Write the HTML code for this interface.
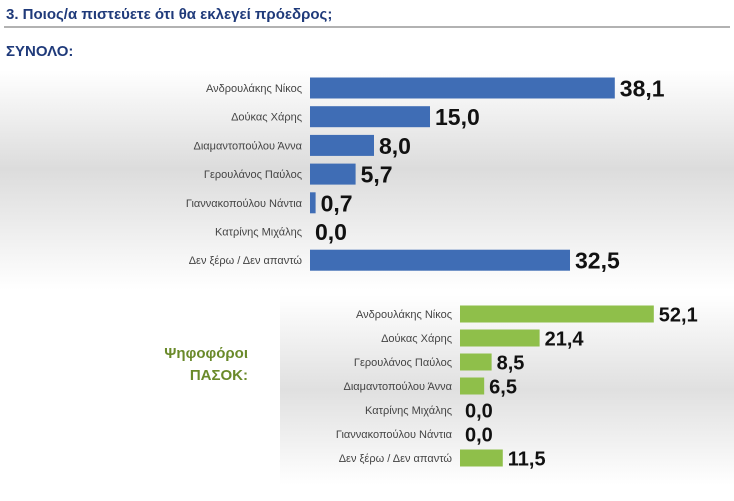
<!DOCTYPE html>
<html><head><meta charset="utf-8"><style>
body{margin:0;width:734px;height:496px;overflow:hidden;background:#fff;font-family:"Liberation Sans","DejaVu Sans",sans-serif}
</style></head><body>
<svg width="734" height="496" xmlns="http://www.w3.org/2000/svg">
<defs>
<linearGradient id="bg" x1="0" y1="0" x2="0" y2="1">
<stop offset="0" stop-color="#fff"/><stop offset="0.45" stop-color="#dcdcdc"/><stop offset="1" stop-color="#fff"/></linearGradient>
<linearGradient id="bg2" x1="0" y1="0" x2="0" y2="1">
<stop offset="0" stop-color="#fff"/><stop offset="0.5" stop-color="#e0e0e0"/><stop offset="1" stop-color="#fff"/></linearGradient>
</defs>
<rect x="0" y="70" width="734" height="220" fill="url(#bg)"/>
<rect x="280" y="295" width="454" height="190" fill="url(#bg2)"/>
<text x="6" y="19" font-size="15" font-weight="bold" fill="#1f3a7a">3. Ποιος/α πιστεύετε ότι θα εκλεγεί πρόεδρος;</text>
<line x1="4" y1="27" x2="730" y2="27" stroke="#666" stroke-width="1"/>
<text x="6" y="56" font-size="15" font-weight="bold" fill="#1f3a7a">ΣΥΝΟΛΟ:</text>
<text x="248" y="358" font-size="15" font-weight="bold" fill="#6a8a2a" text-anchor="end">Ψηφοφόροι</text>
<text x="248" y="380" font-size="15" font-weight="bold" fill="#6a8a2a" text-anchor="end">ΠΑΣΟΚ:</text>
<g id="c1"></g><g id="c2"></g>
</svg>
<script>
const cats1=["Ανδρουλάκης Νίκος","Δούκας Χάρης","Διαμαντοπούλου Άννα","Γερουλάνος Παύλος","Γιαννακοπούλου Νάντια","Κατρίνης Μιχάλης","Δεν ξέρω / Δεν απαντώ"];
const vals1=[38.1,15.0,8.0,5.7,0.7,0.0,32.5];
const cats2=["Ανδρουλάκης Νίκος","Δούκας Χάρης","Γερουλάνος Παύλος","Διαμαντοπούλου Άννα","Κατρίνης Μιχάλης","Γιαννακοπούλου Νάντια","Δεν ξέρω / Δεν απαντώ"];
const vals2=[52.1,21.4,8.5,6.5,0.0,0.0,11.5];
const NS="http://www.w3.org/2000/svg";
function draw(g,cats,vals,o,prefix){
  const x=v=>o.x0+v*o.k, y=i=>o.y0+i*o.step;
  cats.forEach((c,i)=>{
    const cy=y(i);
    const t=document.createElementNS(NS,"text");
    
    
    t.setAttribute("x",o.x0-8);t.setAttribute("y",cy+4);t.setAttribute("font-size",o.fs);
    t.setAttribute("text-anchor","end");t.setAttribute("fill","#444");t.textContent=c;g.appendChild(t);
    const w=Math.max(0,x(vals[i])-o.x0);
    const r=document.createElementNS(NS,"rect");
    
    
    r.setAttribute("x",o.x0);r.setAttribute("y",cy-o.h/2);r.setAttribute("width",w);r.setAttribute("height",o.h);
    r.setAttribute("fill",o.color);g.appendChild(r);
    const v=document.createElementNS(NS,"text");
    
    
    v.setAttribute("x",x(vals[i])+5);v.setAttribute("y",cy+o.vfs*0.37);v.setAttribute("font-size",o.vfs);
    v.setAttribute("font-weight","bold");v.setAttribute("fill","#111");
    v.textContent=vals[i].toFixed(1).replace(".",",");g.appendChild(v);
  });
}
draw(document.getElementById("c1"),cats1,vals1,{x0:310,k:8.0,y0:88,step:28.7,h:21,fs:11,vfs:23,color:"#3f6db5"},"total");
draw(document.getElementById("c2"),cats2,vals2,{x0:460,k:3.72,y0:314,step:24,h:17,fs:11,vfs:20,color:"#8fbf4a"},"pasok");
</script>
</body></html>
